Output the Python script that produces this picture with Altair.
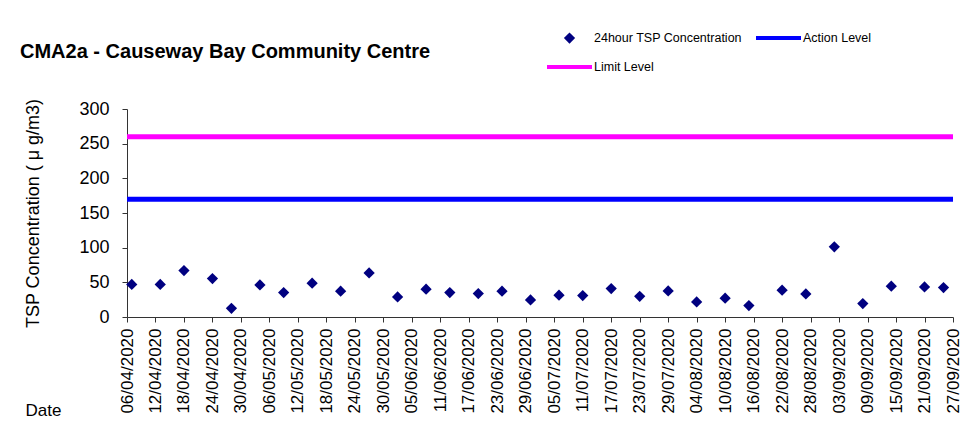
import altair as alt
import pandas as pd

# ---- data ----
sample_dates = ["2020-04-07", "2020-04-13", "2020-04-18", "2020-04-24", "2020-04-28",
                "2020-05-04", "2020-05-09", "2020-05-15", "2020-05-21", "2020-05-27",
                "2020-06-02", "2020-06-08", "2020-06-13", "2020-06-19", "2020-06-24",
                "2020-06-30", "2020-07-06", "2020-07-11", "2020-07-17", "2020-07-23",
                "2020-07-29", "2020-08-04", "2020-08-10", "2020-08-15", "2020-08-22",
                "2020-08-27", "2020-09-02", "2020-09-08", "2020-09-14", "2020-09-21",
                "2020-09-25"]
tsp_values = [47, 47, 67, 55.5, 12.6, 46.3, 35.3, 48.7, 37.2, 63.6,
              28.9, 40.1, 35.3, 33.8, 37.2, 24.6, 31.4, 31.0, 41.1, 29.9,
              37.6, 21.7, 27.1, 16.5, 38.6, 33.3, 101.3, 19.4, 44.4, 43.4,
              42.5]

tick_dates = ["2020-04-06", "2020-04-12", "2020-04-18", "2020-04-24", "2020-04-30",
              "2020-05-06", "2020-05-12", "2020-05-18", "2020-05-24", "2020-05-30",
              "2020-06-05", "2020-06-11", "2020-06-17", "2020-06-23", "2020-06-29",
              "2020-07-05", "2020-07-11", "2020-07-17", "2020-07-23", "2020-07-29",
              "2020-08-04", "2020-08-10", "2020-08-16", "2020-08-22", "2020-08-28",
              "2020-09-03", "2020-09-09", "2020-09-15", "2020-09-21", "2020-09-27"]
y_ticks = [0, 50, 100, 150, 200, 250, 300]

series_names = ["24hour TSP Concentration", "Action Level", "Limit Level"]
series_colors = ["#000080", "#0000FF", "#FF00FF"]
level_names = ["Action Level", "Limit Level"]
level_values = [170, 260]

FONT = "Liberation Sans, Arial, sans-serif"

DIAMOND = "M0,-0.25L0.25,0L0,0.25L-0.25,0Z"
BAR = "M-1,-0.09L1,-0.09L1,0.09L-1,0.09Z"


def to_dt(s):
    y, m, d = (int(v) for v in s.split("-"))
    return alt.DateTime(year=y, month=m, date=d, utc=True)


tsp_df = pd.DataFrame({"date": sample_dates, "value": tsp_values,
                       "series": [series_names[0]] * len(sample_dates)})
lvl_df = pd.DataFrame({"series": level_names, "value": level_values})

legend = alt.Legend(title=None, orient="none", legendX=420, legendY=-93.5,
                    columns=2, direction="horizontal", symbolSize=2025,
                    symbolStrokeWidth=0, labelFont=FONT, labelFontSize=12.5,
                    labelColor="black", labelOffset=2, columnPadding=13,
                    rowPadding=0, padding=0)

x_enc = alt.X("date:T", title="Date",
              scale=alt.Scale(type="utc", domain=[to_dt(tick_dates[0]), to_dt(tick_dates[-1])]),
              axis=alt.Axis(values=[to_dt(t) for t in tick_dates],
                            labelExpr="utcFormat(datum.value, '%d/%m/%Y')",
                            labelAngle=270, labelFontSize=17,
                            labelPadding=6, labelOverlap=False, labelFlush=False,
                            labelBound=False, tickSize=5,
                            titleX=-102, titleY=98, titleAngle=0, titleAlign="left",
                            titleBaseline="alphabetic", titleFontSize=17))
y_enc = alt.Y("value:Q", title="TSP Concentration ( μ g/m3)",
              scale=alt.Scale(domain=[0, 300]),
              axis=alt.Axis(values=y_ticks, labelFontSize=18, labelPadding=13,
                            labelOverlap=False, tickSize=5, titleFontSize=18,
                            titlePadding=36))

points = alt.Chart(tsp_df).mark_point(filled=True, size=2025, opacity=1, strokeWidth=0).encode(
    x=x_enc,
    y=y_enc,
    color=alt.Color("series:N", scale=alt.Scale(domain=series_names, range=series_colors), legend=legend),
    shape=alt.Shape("series:N", scale=alt.Scale(domain=series_names, range=[DIAMOND, BAR, BAR]), legend=legend),
)

action = alt.Chart(lvl_df).transform_filter(alt.datum.series == level_names[0]).mark_rule(
    color=series_colors[1], strokeWidth=5).encode(y=y_enc)
limit = alt.Chart(lvl_df).transform_filter(alt.datum.series == level_names[1]).mark_rule(
    color=series_colors[2], strokeWidth=5).encode(y=y_enc)

chart = alt.layer(points, action, limit).properties(
    width=826, height=208,
    autosize=alt.AutoSizeParams(type="none"),
    padding={"left": 119, "top": 101, "right": 11, "bottom": 110},
    title=alt.TitleParams("CMA2a - Causeway Bay Community Centre", anchor="start",
                          dx=-107, dy=50, font=FONT, fontSize=20, fontWeight="bold",
                          color="black", frame="group"),
).configure_view(stroke=None).configure_axis(
    grid=False, labelFont=FONT, titleFont=FONT, labelColor="black", titleColor="black",
    titleFontWeight="normal", domainColor="#333333", tickColor="#333333",
    domainWidth=1, tickWidth=1,
)

chart.save("out.html", embed_options={"renderer": "svg", "actions": False})
